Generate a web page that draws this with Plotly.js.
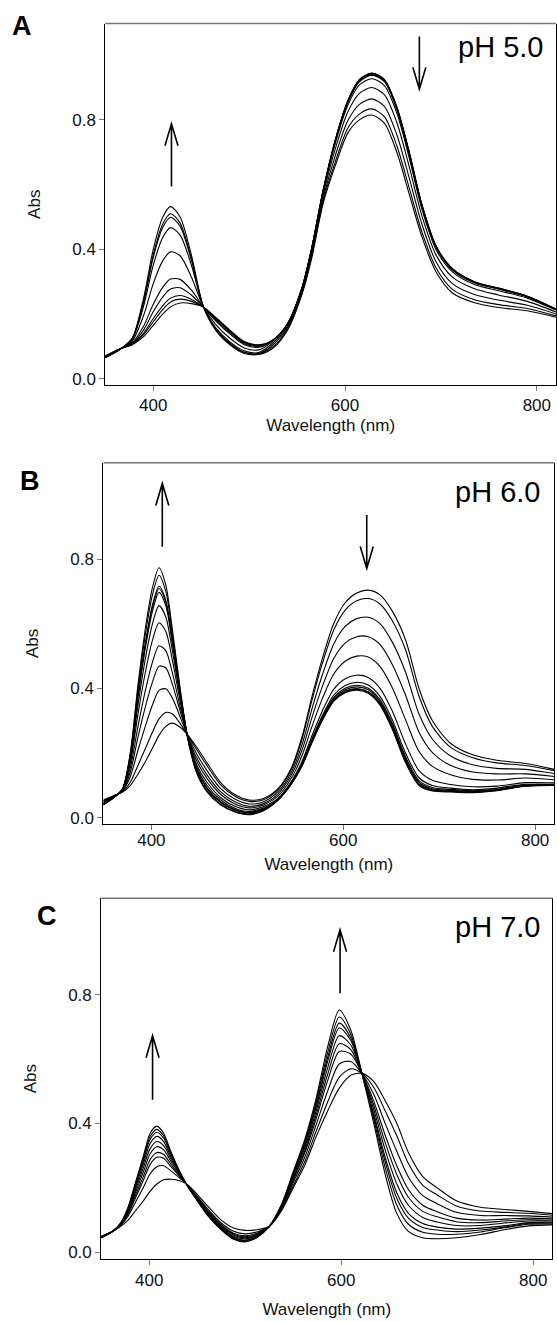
<!DOCTYPE html>
<html><head><meta charset="utf-8">
<script src="https://cdn.plot.ly/plotly-3.0.1.min.js"></script>
<style>html,body{margin:0;padding:0;background:#fff;}#chart{width:557px;height:1322px;}</style>
</head><body><div id="chart"></div>
<script>
// ---------- Panel A : pH 5.0 ----------
const wlA = [350,365,378,390,400,410,418,428,440,452,465,480,495,510,525,540,555,565,577,590,603,615,628,641,654,667,680,695,712,735,760,790,820];
const absA = [
 [.07,.092,.105,.13,.165,.20,.222,.234,.232,.222,.19,.15,.115,.105,.12,.17,.28,.40,.58,.74,.86,.925,.945,.925,.84,.70,.54,.41,.34,.30,.28,.255,.215],
 [.07,.092,.106,.136,.176,.214,.237,.246,.239,.222,.188,.148,.113,.104,.12,.17,.28,.40,.58,.739,.859,.924,.944,.924,.839,.699,.539,.409,.339,.299,.28,.255,.215],
 [.07,.092,.107,.141,.186,.226,.249,.257,.245,.222,.186,.146,.112,.102,.12,.17,.28,.40,.579,.739,.858,.923,.943,.923,.838,.698,.538,.409,.339,.299,.279,.254,.215],
 [.069,.092,.109,.151,.207,.253,.277,.281,.258,.223,.183,.142,.108,.100,.119,.169,.279,.399,.578,.737,.856,.92,.94,.92,.835,.695,.536,.407,.337,.298,.278,.253,.214],
 [.069,.091,.111,.163,.23,.283,.308,.307,.273,.223,.179,.138,.105,.097,.119,.169,.279,.398,.578,.736,.855,.918,.938,.918,.832,.693,.535,.406,.336,.296,.277,.253,.214],
 [.067,.091,.116,.196,.294,.365,.392,.38,.313,.224,.168,.125,.095,.089,.117,.167,.277,.396,.574,.729,.846,.908,.927,.906,.821,.682,.526,.399,.33,.291,.272,.249,.212],
 [.066,.09,.121,.225,.351,.437,.467,.444,.349,.224,.158,.114,.086,.081,.111,.163,.273,.39,.566,.712,.825,.882,.90,.878,.792,.655,.505,.382,.314,.278,.259,.239,.206],
 [.066,.09,.123,.237,.375,.468,.499,.471,.364,.225,.154,.11,.082,.078,.105,.158,.268,.382,.555,.691,.798,.848,.865,.842,.754,.62,.479,.361,.294,.26,.243,.227,.2],
 [.065,.09,.124,.241,.383,.479,.51,.481,.369,.225,.153,.108,.081,.077,.099,.153,.263,.374,.546,.672,.775,.818,.834,.81,.72,.589,.455,.342,.276,.244,.229,.217,.194],
 [.065,.09,.125,.25,.40,.50,.532,.50,.38,.225,.15,.105,.078,.075,.095,.15,.26,.37,.54,.66,.76,.80,.815,.79,.70,.57,.44,.33,.265,.235,.22,.21,.19]
];
// ---------- Panel B : pH 6.0 ----------
const wlB = [350,362,370,378,386,394,401,408,415,422,430,438,447,458,472,487,502,517,532,546,557,567,578,590,602,614,626,638,651,665,679,693,712,735,760,790,820];
const absB = [
 [.055,.07,.08,.10,.135,.175,.215,.255,.283,.293,.28,.256,.22,.17,.11,.072,.055,.06,.09,.155,.25,.37,.49,.60,.665,.695,.704,.69,.64,.55,.40,.30,.23,.195,.178,.168,.15],
 [.054,.07,.081,.11,.162,.216,.264,.306,.326,.321,.292,.255,.212,.161,.103,.067,.051,.056,.087,.151,.243,.359,.475,.58,.642,.671,.678,.662,.61,.519,.376,.282,.218,.186,.17,.162,.146],
 [.051,.069,.083,.127,.209,.286,.348,.394,.399,.37,.312,.253,.199,.146,.091,.058,.043,.05,.081,.142,.226,.333,.44,.537,.592,.616,.62,.601,.544,.45,.321,.243,.191,.164,.153,.15,.137],
 [.049,.068,.084,.141,.249,.346,.419,.469,.464,.412,.33,.252,.187,.133,.081,.05,.036,.044,.074,.133,.209,.307,.404,.492,.54,.56,.56,.537,.475,.379,.265,.202,.162,.142,.136,.136,.128],
 [.047,.067,.085,.154,.282,.397,.48,.532,.517,.447,.344,.25,.177,.122,.073,.043,.031,.04,.067,.123,.192,.279,.367,.444,.484,.50,.497,.469,.403,.303,.205,.159,.133,.119,.117,.123,.118],
 [.045,.067,.087,.167,.32,.454,.548,.603,.577,.486,.361,.249,.166,.11,.063,.036,.025,.035,.06,.113,.174,.251,.329,.397,.43,.441,.434,.402,.331,.228,.146,.116,.103,.096,.098,.109,.108],
 [.043,.066,.088,.177,.348,.496,.598,.656,.621,.515,.373,.248,.158,.10,.056,.03,.02,.031,.058,.109,.167,.241,.315,.379,.409,.419,.411,.377,.304,.20,.124,.10,.092,.087,.092,.104,.104],
 [.042,.066,.089,.185,.37,.529,.637,.697,.656,.538,.382,.247,.152,.093,.05,.026,.017,.028,.057,.108,.165,.237,.31,.372,.401,.41,.401,.367,.293,.189,.115,.094,.088,.084,.089,.102,.103],
 [.042,.066,.089,.188,.376,.539,.649,.709,.666,.544,.385,.246,.15,.091,.049,.025,.016,.027,.056,.107,.163,.235,.306,.368,.396,.405,.396,.361,.287,.183,.11,.09,.085,.082,.087,.10,.102],
 [.042,.066,.089,.189,.38,.545,.657,.717,.673,.549,.387,.246,.149,.09,.048,.024,.015,.026,.056,.106,.162,.232,.303,.364,.392,.40,.39,.356,.281,.177,.105,.087,.083,.08,.086,.099,.101],
 [.041,.065,.09,.196,.398,.572,.688,.75,.70,.567,.395,.246,.144,.084,.043,.02,.012,.024,.055,.106,.161,.231,.302,.362,.39,.398,.388,.353,.279,.174,.103,.085,.082,.079,.085,.099,.10],
 [.04,.065,.09,.20,.41,.59,.71,.773,.72,.58,.40,.245,.14,.08,.04,.018,.01,.022,.055,.105,.16,.23,.30,.36,.387,.395,.385,.35,.275,.17,.10,.083,.08,.078,.084,.098,.10]
];
// ---------- Panel C : pH 7.0 ----------
const wlC = [350,362,370,378,386,394,401,408,415,423,432,440,450,462,475,488,500,512,525,538,550,562,574,586,598,610,622,634,646,658,670,685,700,720,745,770,795,820];
const absC = [
 [.05,.065,.08,.10,.13,.16,.19,.212,.225,.227,.222,.21,.18,.14,.10,.075,.068,.07,.08,.13,.20,.27,.36,.44,.51,.55,.556,.53,.47,.40,.31,.235,.20,.16,.14,.133,.127,.12],
 [.049,.065,.083,.112,.157,.202,.244,.266,.269,.252,.23,.209,.174,.131,.091,.065,.057,.063,.08,.133,.207,.281,.377,.468,.544,.57,.555,.512,.438,.361,.276,.208,.178,.144,.128,.124,.121,.115],
 [.048,.065,.085,.118,.171,.224,.273,.295,.292,.265,.235,.208,.171,.126,.086,.059,.051,.059,.08,.136,.216,.295,.397,.502,.585,.593,.554,.49,.399,.313,.234,.176,.151,.124,.114,.114,.113,.109],
 [.047,.065,.085,.122,.179,.236,.288,.31,.304,.272,.237,.207,.169,.124,.084,.056,.048,.056,.08,.139,.224,.308,.416,.534,.624,.616,.553,.469,.362,.268,.195,.146,.126,.106,.10,.103,.106,.104],
 [.047,.065,.086,.126,.188,.25,.306,.328,.318,.281,.24,.207,.167,.121,.081,.053,.045,.054,.08,.141,.228,.315,.428,.554,.648,.63,.553,.456,.339,.241,.171,.127,.11,.095,.092,.097,.101,.10],
 [.046,.065,.087,.129,.196,.263,.322,.344,.331,.288,.243,.206,.165,.118,.078,.049,.042,.052,.08,.143,.234,.324,.441,.574,.673,.644,.552,.443,.316,.212,.146,.108,.094,.083,.083,.091,.097,.097],
 [.046,.065,.088,.133,.204,.275,.338,.36,.344,.295,.245,.206,.164,.115,.075,.046,.038,.05,.08,.145,.239,.332,.452,.594,.697,.658,.551,.43,.293,.184,.121,.089,.078,.072,.075,.082,.092,.093],
 [.046,.065,.089,.136,.21,.285,.351,.373,.355,.301,.247,.206,.162,.113,.073,.044,.036,.048,.08,.147,.242,.337,.46,.606,.712,.666,.551,.422,.279,.167,.106,.077,.069,.064,.069,.078,.09,.091],
 [.045,.065,.089,.138,.215,.292,.36,.382,.362,.305,.248,.205,.161,.112,.072,.042,.034,.046,.08,.148,.246,.343,.469,.622,.731,.677,.551,.412,.261,.146,.087,.062,.056,.056,.063,.076,.087,.088],
 [.045,.065,.09,.14,.22,.30,.37,.392,.37,.31,.25,.205,.16,.11,.07,.04,.032,.045,.08,.15,.25,.35,.48,.64,.753,.69,.55,.40,.24,.12,.065,.045,.042,.045,.055,.07,.082,.085]
];
// ---------- labels & ticks ----------
const xTickVals = [400,600,800];
const yTickVals = [0,0.4,0.8];
const yTickText = ['0.0','0.4','0.8'];
const panelLetters = ['A','B','C'];
const phLabels = ['pH 5.0','pH 6.0','pH 7.0'];
const xTitle = 'Wavelength (nm)';
const yTitle = 'Abs';
// arrows: panel index, wavelength, start Abs, tip Abs
const arrowPanel = [0,0,1,1,2,2];
const arrowWl    = [419,677.5,411.4,624.5,403.5,598.8];
const arrowFrom  = [0.594,1.058,0.838,0.936,0.474,0.805];
const arrowTo    = [0.788,0.895,1.034,0.771,0.673,1.002];

// ---------- layout geometry (pixels) ----------
const W = 557, H = 1322;
const FONT = 'Liberation Sans, Arial, Helvetica, sans-serif';
const geo = [
  {px:[105.3,556], py:[23.5,385], yr:[-0.0195,1.098], letter:{x:22,y:26}, ph:{x:545,y:47}, tls:0, tts:4},
  {px:[103.4,554.3], py:[462.7,824], yr:[-0.019,1.098], letter:{x:30,y:481}, ph:{x:542,y:492}, tls:-4, tts:8},
  {px:[101.2,552.4], py:[898.3,1259], yr:[-0.021,1.10], letter:{x:47,y:916}, ph:{x:542,y:927}, tls:1, tts:13}
];
const datasets = [[wlA,absA],[wlB,absB],[wlC,absC]];
const XR = [350,820];

const traces = [];
const layout = {
  width: W, height: H, margin:{l:0,r:0,t:0,b:0},
  paper_bgcolor:'#fff', plot_bgcolor:'#fff', showlegend:false,
  font:{family:FONT, color:'#111'},
  shapes:[], annotations:[]
};

datasets.forEach(([wl, rows], p) => {
  const g = geo[p];
  const sfx = p === 0 ? '' : String(p+1);
  rows.forEach(r => traces.push({
    type:'scatter', mode:'lines', x: wl, y: r,
    xaxis:'x'+sfx, yaxis:'y'+sfx,
    line:{color:'#000', width:1.1, shape:'spline', smoothing:0.8},
    hoverinfo:'skip'
  }));
  layout['xaxis'+sfx] = {
    domain:[g.px[0]/W, g.px[1]/W], range:XR, anchor:'y'+sfx,
    tickvals:xTickVals, ticks:'outside', ticklen:5, tickwidth:1, tickcolor:'#777',
    ticklabelstandoff:g.tls,
    showline:true, linecolor:'#000', linewidth:1, mirror:false,
    showgrid:false, zeroline:false, automargin:false,
    tickfont:{family:FONT, size:17, color:'#111'},
    title:{text:xTitle, font:{family:FONT, size:17, color:'#111'}, standoff:g.tts}
  };
  layout['yaxis'+sfx] = {
    domain:[1-g.py[1]/H, 1-g.py[0]/H], range:g.yr, anchor:'x'+sfx,
    tickvals:yTickVals, ticktext:yTickText, ticks:'outside', ticklen:5, tickwidth:1, tickcolor:'#777',
    showline:true, linecolor:'#000', linewidth:1, mirror:true,
    showgrid:false, zeroline:false, automargin:false,
    tickfont:{family:FONT, size:17, color:'#111'},
    title:{text:yTitle, font:{family:FONT, size:17, color:'#111'}, standoff:27}
  };
  // grey top border
  layout.shapes.push({type:'line', xref:'x'+sfx+' domain', yref:'y'+sfx+' domain',
    x0:0, x1:1, y0:1, y1:1, line:{color:'#777', width:1.5}});
  layout.annotations.push({xref:'paper', yref:'paper', x:g.letter.x/W, y:1-g.letter.y/H,
    xanchor:'center', yanchor:'middle', showarrow:false, text:'<b>'+panelLetters[p]+'</b>',
    font:{family:FONT, size:27, color:'#000'}});
  layout.annotations.push({xref:'paper', yref:'paper', x:g.ph.x/W, y:1-g.ph.y/H,
    xanchor:'right', yanchor:'middle', showarrow:false, text:phLabels[p],
    font:{family:FONT, size:29, color:'#000'}});
});

// arrows as open-chevron paths
arrowPanel.forEach((p, i) => {
  const g = geo[p];
  const sfx = p === 0 ? '' : String(p+1);
  const nmPerPx = (XR[1]-XR[0])/(g.px[1]-g.px[0]);
  const absPerPx = (g.yr[1]-g.yr[0])/(g.py[1]-g.py[0]);
  const hw = 6.5*nmPerPx, hl = 22*absPerPx;
  const x = arrowWl[i], y0 = arrowFrom[i], y1 = arrowTo[i];
  const dir = Math.sign(y1-y0);
  const path = `M${x},${y0} L${x},${y1} M${x-hw},${y1-dir*hl} L${x},${y1} L${x+hw},${y1-dir*hl}`;
  layout.shapes.push({type:'path', xref:'x'+sfx, yref:'y'+sfx, path:path,
    line:{color:'#000', width:1.6}});
});

Plotly.newPlot('chart', traces, layout, {staticPlot:true, displayModeBar:false});
</script>
</body></html>
